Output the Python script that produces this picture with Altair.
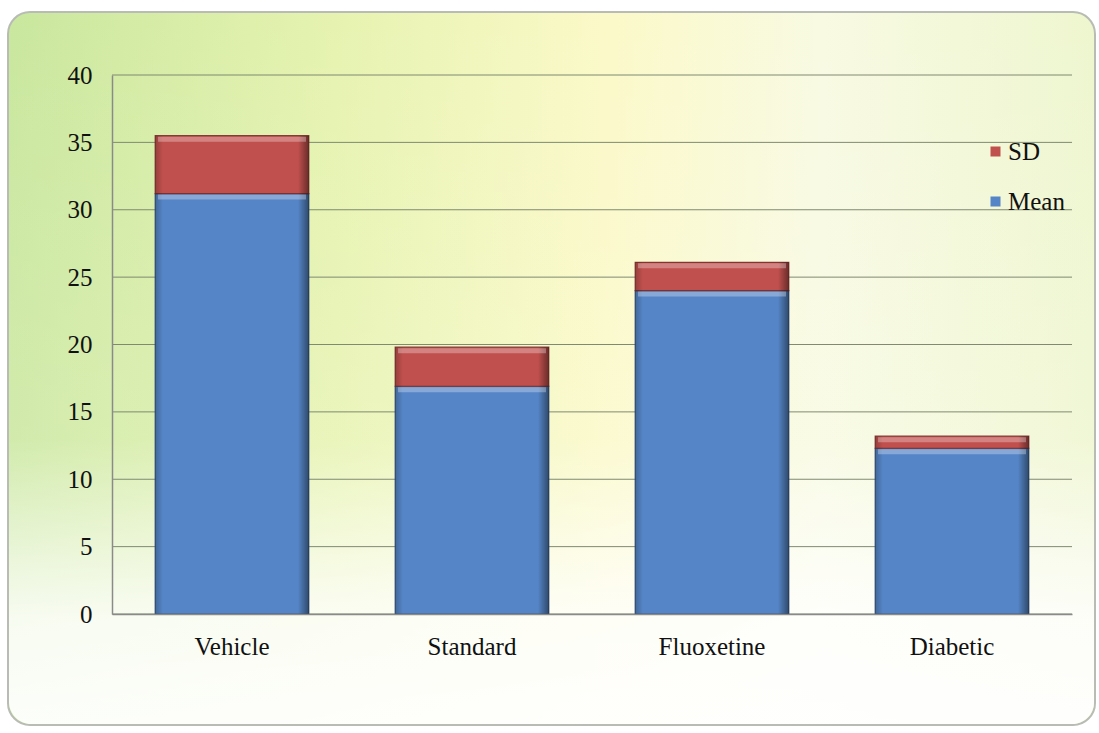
import altair as alt
import pandas as pd

categories = ["Vehicle", "Standard", "Fluoxetine", "Diabetic"]
mean_values = [31.2, 16.9, 24.0, 12.3]
sd_values = [4.3, 2.9, 2.1, 0.9]
series_names = ["SD", "Mean"]
y_ticks = [0, 5, 10, 15, 20, 25, 30, 35, 40]

rows = []
for c, m, s in zip(categories, mean_values, sd_values):
    rows.append({"category": c, "series": "Mean", "value": m, "ord": 0})
    rows.append({"category": c, "series": "SD", "value": s, "ord": 1})
df = pd.DataFrame(rows)
ticks_df = pd.DataFrame({"tick": y_ticks})

FONT = "Liberation Serif"
FS = 25

# Plot area: 960 x 539, offset left 112, top 75
W, H = 960, 539
L, T = 112, 75

bg_h = alt.LinearGradient(
    gradient="linear", x1=0, x2=1, y1=0, y2=0,
    stops=[
        alt.GradientStop(offset=0, color="#c9e79e"),
        alt.GradientStop(offset=0.3, color="#e6f3b0"),
        alt.GradientStop(offset=0.55, color="#fbf9c8"),
        alt.GradientStop(offset=0.75, color="#f8fae2"),
        alt.GradientStop(offset=1, color="#eef6cf"),
    ],
)
bg_v = alt.LinearGradient(
    gradient="linear", x1=0, x2=0, y1=0, y2=1,
    stops=[
        alt.GradientStop(offset=0, color="rgba(255,255,255,0)"),
        alt.GradientStop(offset=0.6, color="rgba(255,255,255,0.15)"),
        alt.GradientStop(offset=0.85, color="rgba(255,255,255,0.85)"),
        alt.GradientStop(offset=1, color="rgba(255,255,255,0.95)"),
    ],
)
shade = alt.LinearGradient(
    gradient="linear", x1=0, x2=1, y1=0, y2=0,
    stops=[
        alt.GradientStop(offset=0, color="rgba(0,0,0,0.22)"),
        alt.GradientStop(offset=0.05, color="rgba(0,0,0,0)"),
        alt.GradientStop(offset=0.93, color="rgba(0,0,0,0)"),
        alt.GradientStop(offset=1, color="rgba(0,0,0,0.45)"),
    ],
)

one = pd.DataFrame({"k": [0]})
frame = alt.Chart(one).mark_rect(
    fill=bg_h, stroke="#b8bcb4", strokeWidth=2, cornerRadius=22
).encode(
    x=alt.value(8 - L), x2=alt.value(1095 - L),
    y=alt.value(12 - T), y2=alt.value(725 - T),
)
fade = alt.Chart(one).mark_rect(fill=bg_v, cornerRadius=22).encode(
    x=alt.value(9 - L), x2=alt.value(1094 - L),
    y=alt.value(13 - T), y2=alt.value(724 - T),
)

yscale = alt.Scale(domain=[0, 40], nice=False)
yaxis = alt.Axis(values=y_ticks, labelFont=FONT, labelFontSize=FS,
                 labelColor="#111111", labelPadding=20, ticks=False,
                 grid=False, domainColor="#8a8a8a", domainWidth=1.5,
                 zindex=1, title=None)
xscale = alt.Scale(paddingInner=0.36, paddingOuter=0.18)
xaxis = alt.Axis(labelAngle=0, labelFont=FONT, labelFontSize=FS,
                 labelColor="#111111", labelPadding=20, ticks=False,
                 domainColor="#8a8a8a", domainWidth=1.5, zindex=1, title=None)

grid = alt.Chart(ticks_df).mark_rule(color="#7f8a70", strokeWidth=1).encode(
    y=alt.Y("tick:Q", scale=yscale, axis=yaxis),
    x=alt.value(0), x2=alt.value(W),
)

bars = alt.Chart(df).mark_bar(strokeWidth=1.2, strokeOpacity=0.9).encode(
    x=alt.X("category:N", sort=categories, scale=xscale, axis=xaxis),
    y=alt.Y("value:Q", stack="zero", scale=yscale, axis=yaxis),
    color=alt.Color(
        "series:N",
        scale=alt.Scale(domain=series_names, range=["#c0504d", "#5585c6"]),
        legend=alt.Legend(
            title=None, orient="none", legendX=983 - L, legendY=139 - T,
            symbolType="square", symbolSize=100, labelFont=FONT,
            labelFontSize=FS, labelColor="#111111", rowPadding=24,
            symbolStrokeWidth=0, labelOffset=0, padding=0,
        ),
    ),
    stroke=alt.Stroke(
        "series:N",
        scale=alt.Scale(domain=series_names, range=["#7a2d2b", "#2c4a74"]),
        legend=None,
    ),
    order=alt.Order("ord:Q"),
)

bevel = alt.Chart(df).mark_bar(fill=shade).encode(
    x=alt.X("category:N", sort=categories, scale=xscale, axis=xaxis),
    y=alt.Y("value:Q", stack="zero", scale=yscale, axis=yaxis),
    detail="series:N",
    order=alt.Order("ord:Q"),
)

highlight = alt.Chart(df).transform_stack(
    stack="value", groupby=["category"],
    sort=[alt.SortField("ord", order="ascending")], as_=["v0", "v1"],
).mark_tick(
    orient="horizontal", size=148, thickness=5, yOffset=3.5,
    color="white", opacity=0.3,
).encode(
    x=alt.X("category:N", sort=categories, scale=xscale, axis=xaxis),
    y=alt.Y("v1:Q", scale=yscale, axis=yaxis),
)

chart = alt.layer(frame, fade, grid, bars, bevel, highlight).properties(
    width=W, height=H,
    autosize=alt.AutoSizeParams(type="none"),
    padding={"left": L, "top": T, "right": 1099 - L - W, "bottom": 733 - T - H},
    background="white",
).configure_view(stroke=None)

chart.save("out.html", embed_options={"renderer": "svg", "actions": False})
